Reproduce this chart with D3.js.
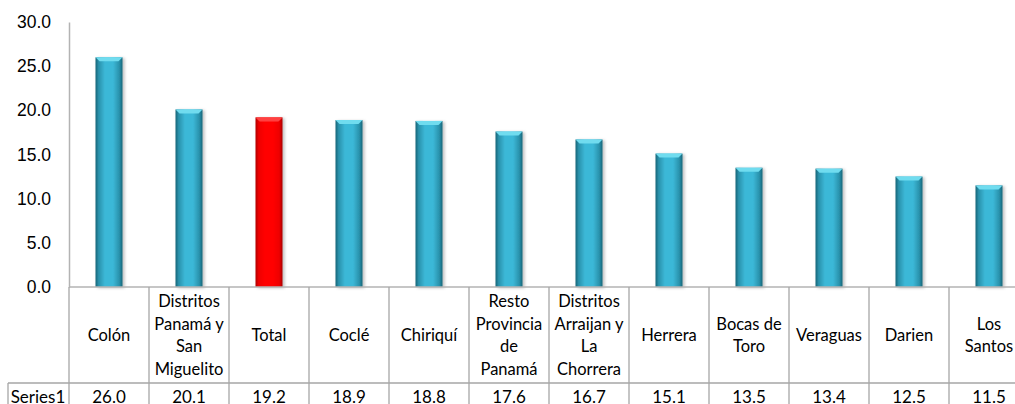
<!DOCTYPE html>
<html>
<head>
<meta charset="utf-8">
<script src="https://cdn.jsdelivr.net/npm/d3@7"></script>
<style>
  html, body { margin: 0; padding: 0; background: #fff; }
  svg { display: block; font-family: Lato, "Open Sans", sans-serif; }
</style>
</head>
<body>
<svg id="chart" width="1015" height="404"></svg>
<script>
// Category labels (explicit line breaks as shown in the data table)
const categories = [
  "Colón",
  "Distritos\nPanamá y\nSan\nMiguelito",
  "Total",
  "Coclé",
  "Chiriquí",
  "Resto\nProvincia\nde\nPanamá",
  "Distritos\nArraijan y\nLa\nChorrera",
  "Herrera",
  "Bocas de\nToro",
  "Veraguas",
  "Darien",
  "Los\nSantos"
];
const values = [26.0, 20.1, 19.2, 18.9, 18.8, 17.6, 16.7, 15.1, 13.5, 13.4, 12.5, 11.5];
const seriesName = "Series1";
const highlight = "Total";
const yTicks = [0, 5, 10, 15, 20, 25, 30];

const svg = d3.select("#chart");
const left = 69, colW = 80;
const yTop = 22, yBase = 287, rowSep = 383, bottom = 420;

const x = d3.scaleBand().domain(categories).range([left, left + colW * categories.length]).padding(0);
const y = d3.scaleLinear().domain([0, 30]).range([yBase, yTop]);

// gradients
const defs = svg.append("defs");
function hGrad(id, stops) {
  const g = defs.append("linearGradient").attr("id", id).attr("x1", "0").attr("x2", "1").attr("y1", "0").attr("y2", "0");
  stops.forEach(s => g.append("stop").attr("offset", s[0]).attr("stop-color", s[1]));
}
hGrad("teal", [[0, "#1a6578"], [0.12, "#2a92ac"], [0.35, "#3bb8d7"], [0.65, "#3bb8d7"], [0.88, "#2a92ac"], [1, "#1a6578"]]);
hGrad("red", [[0, "#b00000"], [0.12, "#ee0000"], [0.35, "#ff0000"], [0.65, "#ff0000"], [0.88, "#ee0000"], [1, "#a80000"]]);
const f = defs.append("filter").attr("id", "shadow").attr("x", "-30%").attr("y", "-10%").attr("width", "160%").attr("height", "120%");
f.append("feDropShadow").attr("dx", 2).attr("dy", 1).attr("stdDeviation", 1.5).attr("flood-color", "#000").attr("flood-opacity", 0.25);

// y axis
const yAxis = d3.axisLeft(y).tickValues(yTicks).tickSize(0).tickPadding(18).tickFormat(d3.format(".1f"));
const ya = svg.append("g").attr("transform", `translate(${left},0)`).call(yAxis);
ya.select(".domain").attr("stroke", "#b3b3b3").attr("stroke-width", 1.5);
ya.selectAll("text").attr("font-size", 17.5).attr("fill", "#000").attr("font-family", null);

// bars
const barW = 27;
const bars = svg.append("g").selectAll("g").data(categories).join("g")
  .attr("filter", "url(#shadow)");
bars.append("rect")
  .attr("x", d => x(d) + x.bandwidth() / 2 - barW / 2)
  .attr("width", barW)
  .attr("y", (d, i) => y(values[i]))
  .attr("height", (d, i) => y(0) - y(values[i]))
  .attr("fill", d => d === highlight ? "url(#red)" : "url(#teal)");
// bevelled top
bars.append("path")
  .attr("d", (d, i) => {
    const x0 = x(d) + x.bandwidth() / 2 - barW / 2, x1 = x0 + barW, t = y(values[i]);
    return `M${x0},${t}L${x1},${t}L${x1 - 4},${t + 4}L${x0 + 4},${t + 4}Z`;
  })
  .attr("fill", d => d === highlight ? "#ff4040" : "#6fdcef");

// data table
const grid = svg.append("g").attr("stroke", "#a6a6a6").attr("stroke-width", 1.3);
const right = left + colW * categories.length;
grid.append("line").attr("x1", left).attr("x2", right).attr("y1", yBase).attr("y2", yBase).attr("stroke", "#b3b3b3").attr("stroke-width", 1.5);
grid.append("line").attr("x1", 8).attr("x2", right).attr("y1", rowSep).attr("y2", rowSep);
grid.append("line").attr("x1", 8).attr("x2", 8).attr("y1", rowSep).attr("y2", bottom);
grid.selectAll(".v").data(categories).join("line")
  .attr("x1", d => x(d)).attr("x2", d => x(d))
  .attr("y1", yBase).attr("y2", bottom);

const lineH = 22.5;
const labels = svg.append("g").attr("font-size", 16.5).attr("fill", "#000").attr("text-anchor", "middle");
categories.forEach(c => {
  const lines = c.split("\n");
  const cy = (yBase + rowSep) / 2;
  const t = labels.append("text").attr("x", x(c) + x.bandwidth() / 2);
  lines.forEach((ln, k) => {
    t.append("tspan").attr("x", x(c) + x.bandwidth() / 2)
      .attr("y", cy + (k - (lines.length - 1) / 2) * lineH)
      .attr("dy", "0.35em").text(ln);
  });
});

const valRow = svg.append("g").attr("font-size", 17).attr("fill", "#000").attr("text-anchor", "middle");
valRow.append("text").attr("x", 38).attr("y", 397).attr("dy", "0.35em").text(seriesName);
valRow.selectAll(".val").data(categories).join("text")
  .attr("x", d => x(d) + x.bandwidth() / 2)
  .attr("y", 397).attr("dy", "0.35em")
  .text((d, i) => d3.format(".1f")(values[i]));
</script>
</body>
</html>
